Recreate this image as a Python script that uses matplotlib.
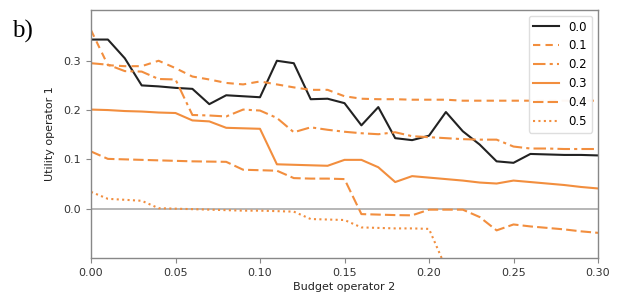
import numpy as np
import matplotlib
matplotlib.use("Agg")
import matplotlib.pyplot as plt

budget = np.round(np.arange(0, 0.301, 0.01), 2)

u_00 = [0.343, 0.343, 0.305, 0.250, 0.248, 0.245, 0.243, 0.212, 0.230, 0.228,
        0.226, 0.300, 0.295, 0.222, 0.223, 0.214, 0.169, 0.206, 0.143, 0.139,
        0.148, 0.196, 0.157, 0.130, 0.096, 0.093, 0.111, 0.110, 0.109, 0.109,
        0.108]
u_01 = [0.362, 0.291, 0.289, 0.289, 0.300, 0.285, 0.268, 0.262, 0.255, 0.252,
        0.258, 0.252, 0.246, 0.241, 0.241, 0.228, 0.223, 0.222, 0.222, 0.221,
        0.221, 0.221, 0.219, 0.219, 0.219, 0.219, 0.219, 0.219, 0.219, 0.219,
        0.219]
u_02 = [0.295, 0.292, 0.279, 0.278, 0.263, 0.262, 0.190, 0.189, 0.187, 0.201,
        0.199, 0.184, 0.155, 0.165, 0.160, 0.156, 0.153, 0.151, 0.155, 0.147,
        0.145, 0.143, 0.141, 0.140, 0.140, 0.126, 0.122, 0.122, 0.121, 0.121,
        0.121]
u_03 = [0.201, 0.200, 0.198, 0.197, 0.195, 0.194, 0.179, 0.177, 0.164, 0.163,
        0.162, 0.090, 0.089, 0.088, 0.087, 0.099, 0.099, 0.084, 0.054, 0.066,
        0.063, 0.060, 0.057, 0.053, 0.051, 0.057, 0.054, 0.051, 0.048, 0.044,
        0.041]
u_04 = [0.116, 0.101, 0.100, 0.099, 0.098, 0.097, 0.096, 0.0955, 0.095, 0.079,
        0.078, 0.077, 0.062, 0.061, 0.061, 0.060, -0.011, -0.012, -0.013, -0.0135,
        -0.002, -0.002, -0.002, -0.017, -0.044, -0.032, -0.036, -0.039, -0.042, -0.046,
        -0.049]
u_05 = [0.034, 0.020, 0.018, 0.016, 0.001, 0.000, -0.001, -0.002, -0.003, -0.004,
        -0.004, -0.005, -0.006, -0.021, -0.022, -0.023, -0.038, -0.039, -0.040, -0.040,
        -0.041, -0.120]

ORANGE = "#f28e3e"
series = [
    ("0.0", u_00, "#222222", "-"),
    ("0.1", u_01, ORANGE, (0, (3.5, 2.5))),
    ("0.2", u_02, ORANGE, (0, (6, 2, 1.5, 2))),
    ("0.3", u_03, ORANGE, "-"),
    ("0.4", u_04, ORANGE, (0, (5, 2))),
    ("0.5", u_05, ORANGE, (0, (1, 1.6))),
]

fig = plt.figure(figsize=(6.25, 2.93), dpi=100)
ax = fig.add_axes([0.1456, 0.1195, 0.8112, 0.8465])

ax.axhline(0.0, color="#aaaaaa", lw=1.2, zorder=1)
for label, vals, col, ls in series:
    ax.plot(budget[:len(vals)], vals, color=col, ls=ls, lw=1.5, label=label)

ax.set_xlim(0, 0.30)
ax.set_ylim(-0.1, 0.403)
ax.set_xticks([0.0, 0.05, 0.10, 0.15, 0.20, 0.25, 0.30])
ax.set_xticklabels(["0.00", "0.05", "0.10", "0.15", "0.20", "0.25", "0.30"])
ax.set_yticks([0.0, 0.1, 0.2, 0.3])
ax.tick_params(labelsize=8, colors="#333333", length=3.5, width=0.8)
ax.tick_params(axis="both", color="#888888")
for sp in ax.spines.values():
    sp.set_color("#888888")
    sp.set_linewidth(1.0)

ax.set_xlabel("Budget operator 2", fontsize=8, color="#222222", labelpad=3)
ax.set_ylabel("Utility operator 1", fontsize=8, color="#222222", labelpad=6)

leg = ax.legend(loc="upper right", fontsize=8.5, handlelength=2.2,
                framealpha=0.95, edgecolor="#dddddd", borderaxespad=0.5)

fig.text(0.019, 0.893, "b)", fontsize=18, family="Liberation Serif", va="center")

fig.savefig("out.png", dpi=100)
